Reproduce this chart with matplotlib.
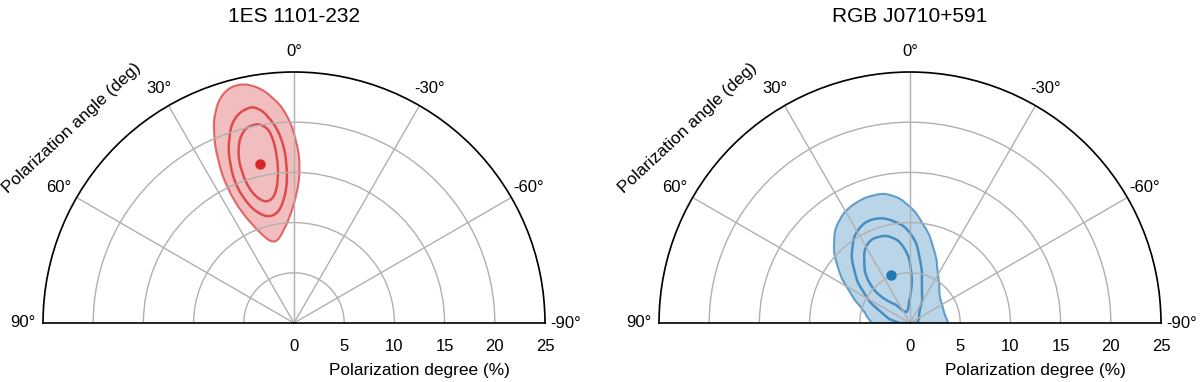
import numpy as np
import matplotlib
matplotlib.use("Agg")
import matplotlib.pyplot as plt
from matplotlib.path import Path
from matplotlib.patches import PathPatch

plt.rcParams['font.family'] = ['Liberation Sans', 'DejaVu Sans']

titles = ["1ES 1101-232", "RGB J0710+591"]
angle_ticks = [90, 60, 30, 0, -30, -60, -90]
angle_labels = ["90°", "60°", "30°", "0°", "-30°", "-60°", "-90°"]
degree_ticks = [0, 5, 10, 15, 20, 25]

# contours: polarization angle (deg), polarization degree (%)
es_outer_pa = [13.3, 17.3, 20.7, 23.0, 25.1, 26.4, 25.5, 21.0, 15.7, 9.9, 2.5, -1.5, -2.4, -0.8, 2.0, 5.4, 9.0]
es_outer_pd = [24.5, 24.0, 22.4, 20.5, 17.9, 15.1, 12.1, 9.6, 8.3, 8.4, 10.3, 12.9, 15.5, 18.2, 20.9, 22.6, 23.9]
es_mid_pa = [11.6, 16.1, 19.4, 22.0, 23.0, 20.2, 14.2, 7.5, 3.3, 2.4, 3.8, 7.3, 9.6]
es_mid_pd = [22.0, 21.4, 19.6, 17.2, 14.4, 12.0, 10.8, 11.1, 13.0, 15.6, 18.6, 20.9, 21.7]
es_in_pa = [11.2, 14.9, 18.1, 19.3, 18.1, 13.8, 8.9, 6.2, 5.7, 6.8, 9.0]
es_in_pd = [20.2, 19.9, 18.1, 15.8, 13.6, 12.3, 12.6, 14.3, 16.6, 19.1, 20.0]
es_best = (12.2, 16.2)

rgb_outer_pa = [13.8, 25.3, 34.8, 42.6, 52.3, 61.6, 74.1, 90, 90, -90, -90, -73.3, -46.8, -28.6, -16.9, -7.6, 1.6, 8.1]
rgb_outer_pd = [13.3, 13.2, 12.5, 11.3, 9.2, 7.0, 4.8, 3.8, 0, 0, 3.8, 3.5, 3.9, 5.7, 8.0, 10.0, 12.0, 12.9]
rgb_mid_pa = [19.3, 28.6, 37.3, 46.8, 57.3, 68.9, 90, 90, -90, -90, -39.7, -17.7, -8.5, -1.1, 9.2]
rgb_mid_pd = [11.1, 10.8, 9.6, 7.7, 5.5, 3.2, 1.0, 0, 0, 0.7, 1.3, 3.8, 6.7, 9.0, 10.4]
rgb_in_pa = [19.0, 28.4, 36.4, 46.2, 48.9, 26.6, 8.3, -3.2, -1.7, 4.9, 11.9]
rgb_in_pd = [9.2, 9.1, 7.8, 5.8, 3.5, 1.1, 1.2, 3.0, 5.6, 7.8, 8.8]
rgb_best = (21.8, 5.1)

sources = [
    (es_outer_pa, es_outer_pd, [(es_mid_pa, es_mid_pd), (es_in_pa, es_in_pd)], es_best, "#d62728"),
    (rgb_outer_pa, rgb_outer_pd, [(rgb_mid_pa, rgb_mid_pd), (rgb_in_pa, rgb_in_pd)], rgb_best, "#1f77b4"),
]


def contour_path(pa, pd):
    # closed quadratic bezier using the read points as control points;
    # points on the baseline (|pa| == 90) are kept as sharp corners
    pts = []
    for a, d in zip(pa, pd):
        p = (np.deg2rad(a), d)
        pts.append(p)
        if abs(a) == 90:
            pts.append(p)
    pts = np.array(pts)
    n = len(pts)
    mids = (pts + np.roll(pts, -1, axis=0)) / 2
    verts = [mids[-1]]
    codes = [Path.MOVETO]
    for k in range(n):
        verts += [pts[k], mids[k]]
        codes += [Path.CURVE3, Path.CURVE3]
    return Path(verts, codes)


W, H = 1200, 382
fig = plt.figure(figsize=(W / 100, H / 100), dpi=100)
centers = [294, 910]   # pixel x of the origin of each half disc
R = 251                # pixel radius of the half disc
cy = 323               # pixel y of the baseline

for i, (opa, opd, inner, best, col) in enumerate(sources):
    cx = centers[i]
    # square box; the half disc fills the middle half of it vertically
    ax = fig.add_axes([(cx - R) / W, (H - cy - R / 2) / H, 2 * R / W, 2 * R / H],
                      projection='polar')
    ax.set_theta_zero_location('N')
    ax.set_theta_direction(1)
    ax.set_thetamin(-90)
    ax.set_thetamax(90)
    ax.set_ylim(0, 25)
    ax.set_rticks(degree_ticks)
    ax.set_thetagrids(angle_ticks, angle_labels)
    ax.tick_params(axis='x', labelsize=12, pad=4)
    ax.tick_params(axis='y', labelsize=12, pad=8)
    ax.grid(color='#b0b0b0', linewidth=1)
    for s in ax.spines.values():
        s.set_color('black')
        s.set_linewidth(1.2)

    ax.add_patch(PathPatch(contour_path(opa, opd), facecolor=col, alpha=0.3,
                           edgecolor='none'))
    ax.add_patch(PathPatch(contour_path(opa, opd), facecolor='none',
                           edgecolor=col, alpha=0.65, linewidth=1.5))
    for pa, pd in inner:
        ax.add_patch(PathPatch(contour_path(pa, pd), facecolor='none',
                               edgecolor=col, alpha=0.75, linewidth=1.8))
    ax.plot(np.deg2rad(best[0]), best[1], 'o', color=col, markersize=6.5)

    fig.text(cx / W, 1 - 17 / H, titles[i], ha='center', va='center', fontsize=15)
    fig.text((cx + R / 2) / W, 1 - 370 / H, "Polarization degree (%)",
             ha='center', va='center', fontsize=12.4)
    fig.text((cx - 222) / W, 1 - 128 / H, "Polarization angle (deg)",
             ha='center', va='center', fontsize=12.4, rotation=43)

fig.savefig("out.png", dpi=100)
